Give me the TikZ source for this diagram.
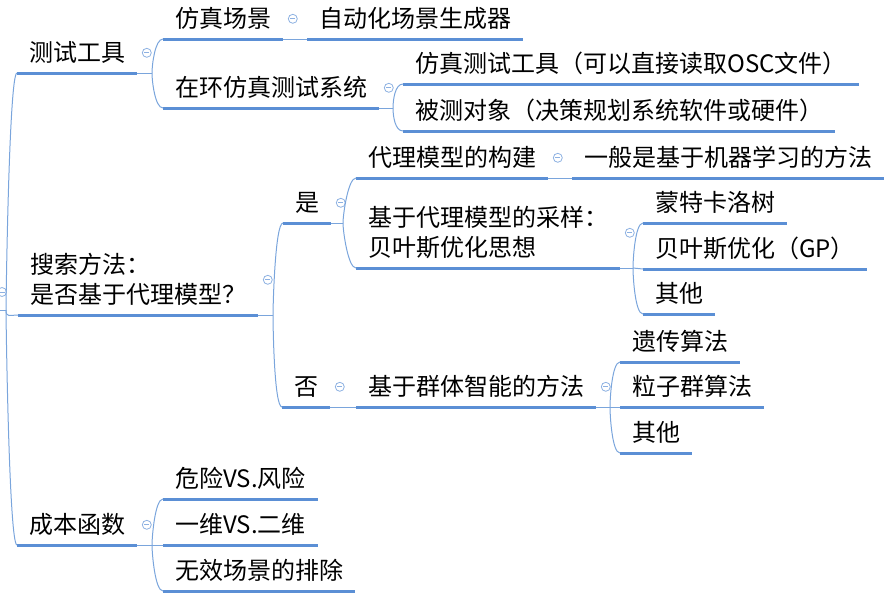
\documentclass[tikz,border=0pt]{standalone}
\usepackage{fontspec}
\usepackage{tikz}
\usetikzlibrary{positioning,calc}
\newfontfamily\cjk{Noto Sans CJK SC}
\definecolor{Bar}{HTML}{5B8FD5}
\definecolor{Link}{HTML}{7AA5DC}
\definecolor{Fold}{HTML}{8DB1E2}
\tikzset{
  topic/.style={font=\cjk\fontsize{24}{30}\selectfont,anchor=south west,inner xsep=12pt,inner ysep=8.8pt,
    text height=20pt,text depth=2.4pt,
    append after command={(\tikzlastnode.south west) edge[bar] (\tikzlastnode.south east)}},
  twoline/.style={topic,align=left,text height=50pt},
  bar/.style={draw=Bar,line width=3pt},
  link/.style={draw=Link,line width=1pt},
  branch/.style={link,out distance=8pt,in distance=8pt},
  fold/.style={circle,draw=Fold,line width=.8pt,fill=white,minimum size=9pt,inner sep=0pt,
    path picture={\draw[Fold,line width=.8pt] ([xshift=-2.5pt]path picture bounding box.center)
      -- ([xshift=2.5pt]path picture bounding box.center);}}
}
\begin{document}
\begin{tikzpicture}[x=1pt,y=-1pt]
  \useasboundingbox (0,0) rectangle (885,597);
  \coordinate (rootend) at (0,310); \coordinate (rootfork) at (6,310);
  \node[fold] (rootfold) at (2,292) {};
  % first level
  \node[topic] (test) at (17,73) {测试工具};
  \node[twoline] (search) at (18,315) {搜索方法：\\是否基于代理模型？};
  \node[topic] (cost) at (17,545) {成本函数};
  % test tools
  \node[topic] (scene) at (163,39) {仿真场景};
  \node[topic] (hil) at (163,108) {在环仿真测试系统};
  \node[topic] (gen) at (307,39) {自动化场景生成器};
  \node[topic] (tool) at (403,84) {仿真测试工具（可以直接读取OSC文件）};
  \node[topic] (dut) at (403,131) {被测对象（决策规划系统软件或硬件）};
  % search method
  \node[topic] (yes) at (283,223) {是};
  \node[topic] (no) at (282,407) {否};
  \node[topic] (build) at (356,178) {代理模型的构建};
  \node[topic] (ml) at (572,178) {一般是基于机器学习的方法};
  \node[twoline] (sample) at (356,268) {基于代理模型的采样：\\贝叶斯优化思想};
  \node[topic] (mcts) at (643,223) {蒙特卡洛树};
  \node[topic] (bo) at (643,269) {贝叶斯优化（GP）};
  \node[topic] (other1) at (643,314) {其他};
  \node[topic] (swarm) at (356,407) {基于群体智能的方法};
  \node[topic] (ga) at (620,362) {遗传算法};
  \node[topic] (pso) at (620,407) {粒子群算法};
  \node[topic] (other2) at (620,453) {其他};
  % cost function
  \node[topic] (risk) at (163,499) {危险VS.风险};
  \node[topic] (dim) at (163,545) {一维VS.二维};
  \node[topic] (invalid) at (163,591) {无效场景的排除};
  % fold markers
  \node[fold,right=4.5pt of test] (testfold) {};
  \node[fold,right=4.5pt of search] (searchfold) {};
  \node[fold,right=4.5pt of cost] (costfold) {};
  \node[fold,right=4.5pt of scene] (scenefold) {};
  \node[fold,right=4.5pt of hil] (hilfold) {};
  \node[fold,right=4.5pt of yes] (yesfold) {};
  \node[fold,right=4.5pt of no] (nofold) {};
  \node[fold,right=4.5pt of build] (buildfold) {};
  \node[fold,right=4.5pt of sample] (samplefold) {};
  \node[fold,right=4.5pt of swarm] (swarmfold) {};
  % forks
  \coordinate (testfork) at (152,73);
  \coordinate (hilfork) at (393,108);
  \coordinate (searchfork) at (273,315);
  \coordinate (yesfork) at (343,223);
  \coordinate (samplefork) at (633,268);
  \coordinate (swarmfork) at (610,407);
  \coordinate (costfork) at (152,545);
  % connectors
  \draw[link] (rootend) -- (rootfork);
  \draw[branch] (rootfork) to[out=90,in=180] (test.south west);
  \draw[branch] (rootfork) to[out=-90,in=180] (search.south west);
  \draw[branch] (rootfork) to[out=-90,in=180] (cost.south west);
  \draw[link] (test.south east) -- (testfork);
  \draw[branch] (testfork) to[out=90,in=180] (scene.south west);
  \draw[branch] (testfork) to[out=-90,in=180] (hil.south west);
  \draw[link] (scene.south east) -- (gen.south west);
  \draw[link] (hil.south east) -- (hilfork);
  \draw[branch] (hilfork) to[out=90,in=180] (tool.south west);
  \draw[branch] (hilfork) to[out=-90,in=180] (dut.south west);
  \draw[link] (search.south east) -- (searchfork);
  \draw[branch] (searchfork) to[out=90,in=180] (yes.south west);
  \draw[branch] (searchfork) to[out=-90,in=180] (no.south west);
  \draw[link] (yes.south east) -- (yesfork);
  \draw[branch] (yesfork) to[out=90,in=180] (build.south west);
  \draw[branch] (yesfork) to[out=-90,in=180] (sample.south west);
  \draw[link] (build.south east) -- (ml.south west);
  \draw[link] (sample.south east) -- (samplefork);
  \draw[branch] (samplefork) to[out=90,in=180] (mcts.south west);
  \draw[link] (samplefork) -- (bo.south west);
  \draw[branch] (samplefork) to[out=-90,in=180] (other1.south west);
  \draw[link] (no.south east) -- (swarm.south west);
  \draw[link] (swarm.south east) -- (swarmfork);
  \draw[branch] (swarmfork) to[out=90,in=180] (ga.south west);
  \draw[link] (swarmfork) -- (pso.south west);
  \draw[branch] (swarmfork) to[out=-90,in=180] (other2.south west);
  \draw[link] (cost.south east) -- (costfork);
  \draw[branch] (costfork) to[out=90,in=180] (risk.south west);
  \draw[link] (costfork) -- (dim.south west);
  \draw[branch] (costfork) to[out=-90,in=180] (invalid.south west);
\end{tikzpicture}
\end{document}
